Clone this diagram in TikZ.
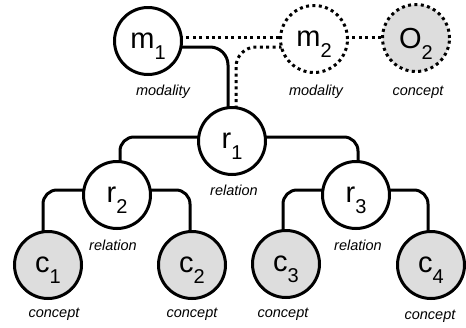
\documentclass[tikz,border=0pt]{standalone}
\usepackage{fontspec}
\setmainfont{Liberation Sans}
\usetikzlibrary{calc,backgrounds}
\definecolor{conceptgray}{RGB}{221,221,221}
\newcommand\nodesub[1]{\raisebox{-11pt}{\fontsize{20}{20}\selectfont #1}}
\begin{document}
\begin{tikzpicture}[x=1pt,y=1pt,
  vnode/.style={circle, minimum size=67pt, inner sep=0pt, line width=3pt, font=\fontsize{29}{29}\selectfont, text depth=0pt},
  solidnode/.style={vnode, draw, fill=white},
  dotnode/.style={vnode, draw, fill=white, dash pattern=on 3pt off 3.4pt},
  conceptnode/.style={vnode, draw, fill=conceptgray},
  lab/.style={anchor=base, inner sep=0pt, font=\fontsize{14.5}{15}\selectfont\itshape},
  link/.style={line width=3pt, rounded corners=14pt},
  dotlink/.style={link, dash pattern=on 3pt off 3.4pt},
]
\useasboundingbox (0,0) rectangle (466,-327);
\node[solidnode] (m1) at (148,-41) {m\nodesub{1}};
\node[dotnode] (m2) at (314,-39) {m\nodesub{2}};
\node[dotnode, fill=conceptgray] (o2) at (416,-38) {O\nodesub{2}};
\node[solidnode] (r1) at (232,-141) {r\nodesub{1}};
\node[solidnode] (r2) at (117,-195) {r\nodesub{2}};
\node[solidnode] (r3) at (356,-195) {r\nodesub{3}};
\node[conceptnode] (c1) at (48,-265) {c\nodesub{1}};
\node[conceptnode] (c2) at (192,-265) {c\nodesub{2}};
\node[conceptnode] (c3) at (286,-264) {c\nodesub{3}};
\node[conceptnode] (c4) at (431,-265) {c\nodesub{4}};

\node[lab] (lm1) at (163,-95) {modality};
\node[lab] (lm2) at (316,-95) {modality};
\node[lab] (lo2) at (418,-95) {concept};
\node[lab] (lr1) at (234,-195) {relation};
\node[lab] (lr2) at (113,-250) {relation};
\node[lab] (lr3) at (358,-250) {relation};
\node[lab] (lc1) at (54,-317) {concept};
\node[lab] (lc2) at (192,-317) {concept};
\node[lab] (lc3) at (283,-317) {concept};
\node[lab] (lc4) at (430,-319) {concept};

\begin{pgfonlayer}{background}
\draw[dotlink] ($(m1.center)+(0,4)$) -- ($(m2.center)+(0,2)$);
\draw[dotlink] ($(m2.center)+(0,2)$) -- ($(o2.center)+(0,1)$);
\draw[link, rounded corners=18pt] ($(m1.center)+(0,-6)$) -| ($(r1.center)+(-4,0)$);
\draw[dotlink, rounded corners=20pt] ($(m2.center)+(0,-8)$) -| ($(r1.center)+(4,0)$);
\draw[link] ($(r1.center)+(0,4)$) -| ($(r2.center)+(3,0)$);
\draw[link] ($(r1.center)+(0,4)$) -| ($(r3.center)+(2,0)$);
\draw[link] ($(r2.center)+(0,5)$) -| ($(c1.center)+(-5,0)$);
\draw[link] ($(r2.center)+(0,5)$) -| ($(c2.center)+(-2,0)$);
\draw[link] ($(r3.center)+(0,5)$) -| ($(c3.center)+(-3,0)$);
\draw[link] ($(r3.center)+(0,5)$) -| ($(c4.center)+(-3,0)$);
\end{pgfonlayer}
\end{tikzpicture}
\end{document}
